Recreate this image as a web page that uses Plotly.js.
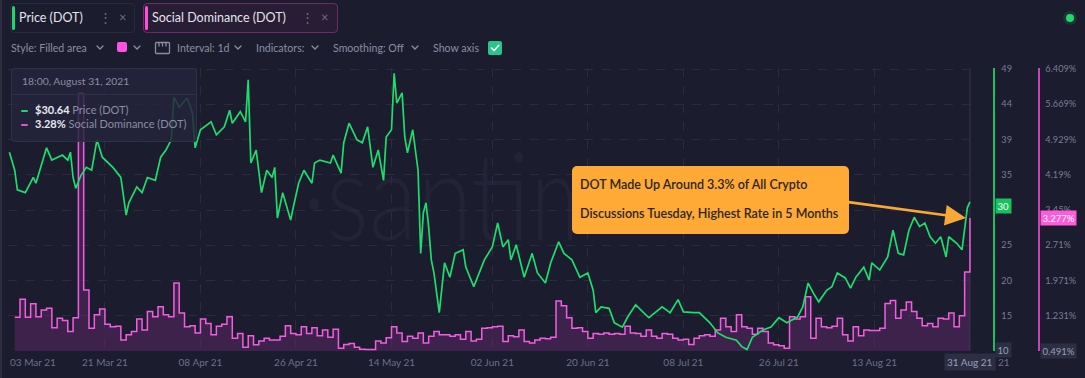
<!DOCTYPE html>
<html><head><meta charset="utf-8">
<script src="https://cdn.plot.ly/plotly-3.0.1.min.js"></script>
<style>
html,body{margin:0;padding:0;background:#1b1c2d;width:1085px;height:378px;overflow:hidden;font-family:Lato,'Open Sans',sans-serif;}
#wrap{position:relative;width:1085px;height:378px;border-left:2px solid #2c2e40;box-sizing:border-box;}
#wmclip{position:absolute;left:300px;top:118px;width:270px;height:150px;overflow:hidden;}
#wm{position:absolute;left:0;top:0;font-family:Lato,sans-serif;font-weight:300;font-size:122px;line-height:150px;color:#222337;white-space:nowrap;transform:scaleX(0.82);transform-origin:left top;}
#chart{position:absolute;left:-2px;top:0;width:1085px;height:378px;}
.chip{position:absolute;top:3px;height:30px;border:1px solid #272a3d;border-radius:4px;box-sizing:border-box;}
.chip .bar{position:absolute;left:1px;top:2px;bottom:2px;width:3px;border-radius:2px;}
.chip .t{position:absolute;top:0;line-height:28px;font-size:12.5px;color:#e3e4ec;white-space:nowrap;}
.chip .ic{position:absolute;top:0;line-height:27px;font-size:13px;color:#6b6e84;}
.tb{position:absolute;top:41px;line-height:15px;font-size:10.6px;color:#8b8ea3;white-space:nowrap;}
#tip{position:absolute;left:9px;top:68px;width:186px;height:74px;background:rgba(36,37,58,0.84);border:1px solid #2e3047;border-radius:3px;box-sizing:border-box;}
#tip .hd{position:absolute;left:0;top:0;right:0;height:25px;border-bottom:1px solid #2e3047;}
#tip .tx{position:absolute;font-size:11px;white-space:nowrap;color:#8a8da3;line-height:14px;}
#tip .dash{position:absolute;width:7px;height:2px;border-radius:1px;}
#note{position:absolute;left:570px;top:166px;width:277px;height:68px;background:#ffa936;border-radius:5px;}
#note .l{position:absolute;left:8px;font-size:12.5px;font-weight:600;color:#2b2622;white-space:nowrap;line-height:16px;}
</style></head>
<body><div id="wrap">
<div id="wmclip"><div id="wm">·santiment</div></div>
<div id="chart"></div>

<div class="chip" style="left:8px;width:125px;">
  <div class="bar" style="background:#1fd66b"></div>
  <div class="t" style="left:8px">Price (DOT)</div>
  <div class="ic" style="left:88px">⋮</div>
  <div class="ic" style="left:108px">×</div>
</div>
<div class="chip" style="left:141px;width:195px;border-color:#6e2b66;background:#271d35;">
  <div class="bar" style="background:#ff4fd8"></div>
  <div class="t" style="left:8px">Social Dominance (DOT)</div>
  <div class="ic" style="left:157px">⋮</div>
  <div class="ic" style="left:177px">×</div>
</div>

<div class="tb" style="left:9px">Style: Filled area</div>
<div class="tb" style="left:175px">Interval: 1d</div>
<div class="tb" style="left:254px">Indicators:</div>
<div class="tb" style="left:331px">Smoothing: Off</div>
<div class="tb" style="left:431px">Show axis</div>
<svg style="position:absolute;left:0;top:36px" width="520" height="24">
  <g fill="none" stroke="#8b8ea3" stroke-width="1.3" stroke-linecap="round">
    <polyline points="95,10 98,13 101,10"/>
    <polyline points="132,10 135,13 138,10"/>
    <polyline points="233,10 236,13 239,10"/>
    <polyline points="310,10 313,13 316,10"/>
    <polyline points="410,10 413,13 416,10"/>
    <rect x="153.5" y="6.5" width="14" height="11" rx="1"/>
    <line x1="157" y1="7" x2="157" y2="10"/><line x1="160.5" y1="7" x2="160.5" y2="10"/><line x1="164" y1="7" x2="164" y2="10"/>
  </g>
  <rect x="115" y="6" width="10" height="10" rx="2" fill="#ff52e0"/>
  <rect x="486" y="5" width="14" height="14" rx="2" fill="#27c48c"/>
  <polyline points="489.5,12 492.2,14.6 496.8,9.2" fill="none" stroke="#ffffff" stroke-width="1.5" stroke-linecap="round" stroke-linejoin="round"/>
</svg>
<div style="position:absolute;left:1061px;top:11px;width:14px;height:14px;border-radius:7px;background:rgba(33,214,107,0.13)"></div>
<div style="position:absolute;left:1064px;top:14px;width:8px;height:8px;border-radius:4px;background:#22d86b"></div>

<div id="tip">
  <div class="hd"></div>
  <div class="tx" style="left:10px;top:5px;font-size:10.4px;">18:00, August 31, 2021</div>
  <div class="dash" style="left:9px;top:41px;background:#1fd66b"></div>
  <div class="tx" style="left:23px;top:34px;"><span style="color:#e8e9f0;font-weight:700">$30.64</span> Price (DOT)</div>
  <div class="dash" style="left:9px;top:55px;background:#e055cf"></div>
  <div class="tx" style="left:23px;top:48px;"><span style="color:#e8e9f0;font-weight:700">3.28%</span> Social Dominance (DOT)</div>
</div>

<div id="note">
  <div class="l" style="top:11px">DOT Made Up Around 3.3% of All Crypto</div>
  <div class="l" style="top:40px">Discussions Tuesday, Highest Rate in 5 Months</div>
</div>
</div>

<script>
// ---- Price (DOT), USD ----
const priceDates = [
'2021-03-03 00:00','2021-03-04 00:00','2021-03-04 12:00','2021-03-06 00:00','2021-03-07 12:00','2021-03-08 00:00',
'2021-03-10 00:00','2021-03-11 00:00','2021-03-13 00:00','2021-03-14 00:00','2021-03-14 12:00','2021-03-15 00:00',
'2021-03-15 12:00','2021-03-16 12:00','2021-03-17 12:00','2021-03-18 12:00','2021-03-19 12:00','2021-03-20 12:00',
'2021-03-22 12:00','2021-03-24 00:00','2021-03-25 00:00','2021-03-25 12:00','2021-03-27 00:00','2021-03-28 00:00',
'2021-03-29 00:00','2021-03-30 12:00','2021-03-31 12:00','2021-04-01 12:00','2021-04-02 12:00','2021-04-03 00:00',
'2021-04-04 00:00','2021-04-05 12:00','2021-04-06 12:00','2021-04-07 00:00','2021-04-08 00:00','2021-04-10 00:00',
'2021-04-11 00:00','2021-04-12 12:00','2021-04-13 12:00','2021-04-14 00:00','2021-04-15 12:00','2021-04-16 12:00',
'2021-04-17 00:00','2021-04-17 12:00','2021-04-18 12:00','2021-04-19 12:00','2021-04-20 12:00','2021-04-21 12:00',
'2021-04-22 00:00','2021-04-22 12:00','2021-04-23 12:00','2021-04-25 00:00','2021-04-25 12:00','2021-04-26 12:00',
'2021-04-27 12:00','2021-04-29 00:00','2021-04-29 12:00','2021-04-30 12:00','2021-05-02 12:00','2021-05-03 00:00',
'2021-05-04 12:00','2021-05-05 00:00','2021-05-06 00:00','2021-05-07 12:00','2021-05-08 12:00','2021-05-09 12:00',
'2021-05-10 12:00','2021-05-11 12:00','2021-05-12 12:00','2021-05-13 00:00','2021-05-14 00:00','2021-05-14 12:00',
'2021-05-15 00:00','2021-05-16 00:00','2021-05-16 12:00','2021-05-17 00:00','2021-05-18 00:00','2021-05-19 00:00',
'2021-05-19 12:00','2021-05-20 00:00','2021-05-20 12:00','2021-05-21 00:00','2021-05-21 12:00','2021-05-22 00:00',
'2021-05-23 00:00','2021-05-24 00:00','2021-05-25 00:00','2021-05-26 00:00','2021-05-27 12:00','2021-05-28 00:00',
'2021-05-29 12:00','2021-05-30 12:00','2021-05-31 12:00','2021-06-02 00:00','2021-06-03 00:00','2021-06-04 00:00',
'2021-06-05 00:00','2021-06-05 12:00','2021-06-06 12:00','2021-06-08 00:00','2021-06-09 12:00','2021-06-10 12:00',
'2021-06-12 00:00','2021-06-13 00:00','2021-06-14 12:00','2021-06-15 12:00','2021-06-17 00:00','2021-06-18 12:00',
'2021-06-20 00:00','2021-06-21 00:00','2021-06-21 12:00','2021-06-22 12:00','2021-06-24 00:00','2021-06-25 00:00',
'2021-06-26 12:00','2021-06-27 12:00','2021-06-29 00:00','2021-06-30 12:00','2021-07-01 12:00','2021-07-04 00:00',
'2021-07-05 12:00','2021-07-07 00:00','2021-07-08 00:00','2021-07-10 00:00','2021-07-11 00:00','2021-07-13 00:00',
'2021-07-14 12:00','2021-07-16 00:00','2021-07-18 00:00','2021-07-19 00:00','2021-07-20 00:00','2021-07-21 00:00',
'2021-07-23 00:00','2021-07-24 12:00','2021-07-26 00:00','2021-07-27 12:00','2021-07-29 12:00','2021-07-30 12:00',
'2021-07-31 12:00','2021-08-01 12:00','2021-08-02 12:00','2021-08-04 00:00','2021-08-05 00:00','2021-08-06 00:00',
'2021-08-07 12:00','2021-08-08 12:00','2021-08-09 12:00','2021-08-11 00:00','2021-08-12 00:00','2021-08-12 12:00',
'2021-08-14 00:00','2021-08-15 12:00','2021-08-16 12:00','2021-08-17 12:00','2021-08-18 12:00','2021-08-19 12:00',
'2021-08-20 12:00','2021-08-21 12:00','2021-08-22 12:00','2021-08-23 12:00','2021-08-24 12:00','2021-08-25 12:00',
'2021-08-26 12:00','2021-08-27 00:00','2021-08-28 12:00','2021-08-29 12:00','2021-08-30 00:00','2021-08-30 12:00',
'2021-08-31 00:00'];
const priceValues = [
37.5,35.0,32.3,31.9,34.0,33.2,
38.1,36.4,37.1,36.4,37.5,34.0,
32.5,34.3,35.4,35.0,39.2,36.8,
35.4,34.0,28.8,30.5,32.7,31.9,
34.0,33.6,36.8,37.8,39.2,45.1,
43.7,45.0,42.9,38.1,40.6,41.7,
39.9,41.0,43.3,41.5,43.1,41.7,
47.5,36.0,37.8,31.9,35.0,34.0,
35.4,28.4,31.9,28.1,29.9,33.2,
35.0,33.2,36.0,36.4,36.0,37.1,
34.6,38.8,41.5,39.2,38.8,41.0,
35.4,37.8,33.6,39.6,40.6,48.4,
44.3,45.7,39.6,37.4,40.6,35.0,
23.5,29.1,30.5,27.2,22.6,20.8,
15.3,22.2,20.2,23.5,24.0,21.6,
18.9,20.8,22.6,24.4,27.7,24.4,
25.4,22.6,24.7,20.2,23.5,20.8,
19.4,22.2,25.1,23.5,22.6,20.2,
20.8,18.4,15.3,16.1,15.9,13.9,
13.3,14.7,16.4,15.3,14.6,16.1,
15.3,17.1,15.4,15.3,15.3,13.9,
12.5,11.9,11.5,10.6,10.2,11.9,
12.9,13.3,14.6,13.9,14.7,16.1,
19.4,18.0,16.8,18.4,18.9,20.8,
20.1,18.7,20.2,21.6,19.8,22.2,
21.2,23.0,26.7,23.5,23.3,26.7,
28.5,27.2,27.7,25.8,24.9,25.8,
23.0,25.8,24.9,24.0,27.2,29.8,
30.64];

// ---- Social Dominance (DOT), % — daily ----
const sdStartDate = '2021-03-04';
const sdValues = [
1.20,1.575,1.20,1.48,1.21,1.35,1.39,0.98,1.18,1.13,0.90,1.19,5.9,1.77,0.97,1.25,1.37,1.05,1.00,1.01,
0.72,0.83,0.90,1.16,0.93,1.32,1.21,1.42,1.25,1.21,1.92,1.29,1.00,1.02,0.87,1.16,1.07,0.83,1.01,1.05,
1.21,0.76,0.86,0.57,0.81,0.62,0.70,0.76,0.72,0.72,0.80,1.02,0.86,0.83,1.00,0.86,0.98,0.81,0.93,0.78,
0.95,0.55,0.63,0.65,0.57,0.53,0.52,0.52,0.70,0.66,0.77,1.00,0.87,0.69,0.80,0.76,0.87,0.66,0.80,0.90,
0.83,0.83,0.80,0.83,0.74,0.90,0.70,0.74,0.97,0.98,1.00,1.01,0.69,0.81,0.79,0.93,0.69,0.66,0.72,0.76,
0.75,0.78,1.54,1.44,1.19,0.97,0.98,0.90,0.76,0.86,0.84,0.87,0.84,0.86,0.84,1.01,0.87,0.86,0.80,0.93,
0.80,0.76,0.86,0.84,0.76,0.72,0.74,0.63,0.76,0.81,0.83,0.80,0.93,1.18,1.00,0.90,1.25,1.00,0.97,0.84,
0.97,0.90,0.66,0.62,0.60,0.55,1.21,1.16,1.21,1.63,0.76,1.18,1.00,0.98,1.01,1.18,0.83,0.70,1.00,0.81,
0.93,0.92,0.92,0.97,1.49,1.55,1.18,1.35,1.52,1.32,1.18,1.02,1.07,1.00,1.18,1.16,1.29,1.00,1.23,2.15,
3.28];

// ---- axes ----
const xTickDates  = ['2021-03-21','2021-04-08','2021-04-26','2021-05-14','2021-06-02','2021-06-20','2021-07-08','2021-07-26','2021-08-13'];
const xTickLabels = ['21 Mar 21','08 Apr 21','26 Apr 21','14 May 21','02 Jun 21','20 Jun 21','08 Jul 21','26 Jul 21','13 Aug 21'];
const firstXLabel = '03 Mar 21';
const lastXLabel  = '31 Aug 21';
const priceTickVals = [10,14.875,19.75,24.625,29.5,34.375,39.25,44.125,49];
const priceTickText = ['10','15','20','25','30','35','39','44','49'];
const sdTickVals = [0.491,1.231,1.971,2.71,3.45,4.19,4.929,5.669,6.409];
const sdTickText = ['0.491%','1.231%','1.971%','2.71%','3.45%','4.19%','4.929%','5.669%','6.409%'];
const priceNow = 30.64, priceNowLabel = '30';
const sdNow = 3.277, sdNowLabel = '3.277%';

// daily dates for social dominance
const sdDates = sdValues.map((v,i)=>{
  const d = new Date(sdStartDate+'T00:00:00Z'); d.setUTCDate(d.getUTCDate()+i);
  return d.toISOString().slice(0,10);
});

const GREEN='#1fdc6c', PINK='#f35ee0', GRID='#292b3f', TICK='#6c7088';
const W=1085, L=8, PW=1077;
const px = v => (v-L)/PW;

// regular tick labels; the ones shown inside value boxes are drawn by the boxes
const priceTickShown = priceTickText.map((t,i)=> (i===0||i===4) ? '' : t);
const sdTickShown = sdTickText.map((t,i)=> i===0 ? '' : t);

const traces = [
  {x:sdDates, y:sdValues, yaxis:'y', type:'scatter', mode:'lines', line:{shape:'hv', color:PINK, width:1.5},
   fill:'tozeroy', fillcolor:'rgba(100,45,112,0.47)', hoverinfo:'skip', name:'Social Dominance (DOT)'},
  {x:priceDates, y:priceValues, yaxis:'y2', type:'scatter', mode:'lines', line:{color:GREEN, width:1.7},
   hoverinfo:'skip', name:'Price (DOT)'}
];

const tf = {family:'Lato, sans-serif', size:10, color:TICK};
const yf = {family:'Lato, sans-serif', size:9.2, color:'#7a7e95'};
const layout = {
  width:W, height:378, margin:{l:L, r:0, t:68, b:27, pad:0, autoexpand:false},
  paper_bgcolor:'rgba(0,0,0,0)', plot_bgcolor:'rgba(0,0,0,0)', showlegend:false,
  font:{family:'Lato, sans-serif'},
  xaxis:{domain:[0,px(975)], type:'date', range:['2021-03-02 17:40','2021-08-31 22:50'],
    tickmode:'array', tickvals:xTickDates, ticktext:xTickLabels, showgrid:true, gridcolor:GRID, griddash:'dash',
    gridwidth:1, zeroline:false, showline:false, ticks:'', tickfont:tf, ticklabelstandoff:4, fixedrange:true},
  yaxis:{range:[0.491,6.43], side:'right', anchor:'free', position:px(1038),
    tickmode:'array', tickvals:sdTickVals, ticktext:sdTickShown, showline:true, linecolor:'#c844b6', linewidth:1.5,
    showgrid:false, zeroline:false, ticks:'', tickfont:yf, ticklabelstandoff:4},
  yaxis2:{range:[10,49.14], overlaying:'y', tickmode:'array', tickvals:priceTickVals, ticktext:priceTickShown, side:'right',
    anchor:'free', position:px(993), showline:true, linecolor:'#1bbf60', linewidth:1.5,
    showgrid:true, gridcolor:GRID, griddash:'dash', zeroline:false, ticks:'', tickfont:yf, ticklabelstandoff:5},
  shapes:[
    {type:'line', xref:'x', yref:'paper', x0:'2021-08-31', x1:'2021-08-31', y0:0, y1:1, line:{color:'#35374d', width:1}, layer:'below'}
  ],
  annotations:[
    {xref:'paper', yref:'paper', x:px(33), y:-0.0375, text:firstXLabel, showarrow:false, font:tf, xanchor:'center', yanchor:'middle'},
    {xref:'paper', yref:'paper', x:px(1004), y:-0.0375, text:'21', showarrow:false, font:tf, xanchor:'center', yanchor:'middle'},
    {xref:'x', yref:'paper', x:'2021-08-31', y:-0.0375, text:lastXLabel, showarrow:false, xanchor:'center', yanchor:'middle',
      bgcolor:'#2c2f44', borderpad:2, font:{family:'Lato, sans-serif', size:10, color:'#9c9fb3'}},
    {xref:'paper', yref:'y2', x:px(1003.5), y:30.1, text:priceNowLabel, showarrow:false, xanchor:'center', yanchor:'middle',
      bgcolor:'#17c15c', borderpad:1.5, font:{family:'Lato, sans-serif', size:9.5, color:'#ffffff'}},
    {xref:'paper', yref:'y', x:px(1058.7), y:sdNow, text:sdNowLabel, showarrow:false, xanchor:'center', yanchor:'middle',
      bgcolor:'#ff5bdd', borderpad:1.5, font:{family:'Lato, sans-serif', size:9.5, color:'#ffffff'}},
    {xref:'paper', yref:'y2', x:px(1003.5), y:10.15, text:priceTickText[0], showarrow:false, xanchor:'center', yanchor:'middle',
      bgcolor:'#2c2f44', borderpad:1.5, font:{family:'Lato, sans-serif', size:9.5, color:'#9c9fb3'}},
    {xref:'paper', yref:'y', x:px(1058.7), y:0.495, text:sdTickText[0], showarrow:false, xanchor:'center', yanchor:'middle',
      bgcolor:'#2c2f44', borderpad:1.5, font:{family:'Lato, sans-serif', size:9.5, color:'#9c9fb3'}},
    {xref:'x', yref:'y2', x:'2021-08-30 06:00', y:28.4, ax:-119, ay:-16, text:'', showarrow:true,
      arrowhead:2, arrowsize:1.6, arrowwidth:2.6, arrowcolor:'#f7a836', standoff:0}
  ]
};

Plotly.newPlot('chart', traces, layout, {displayModeBar:false, staticPlot:true});
</script>
</body></html>
